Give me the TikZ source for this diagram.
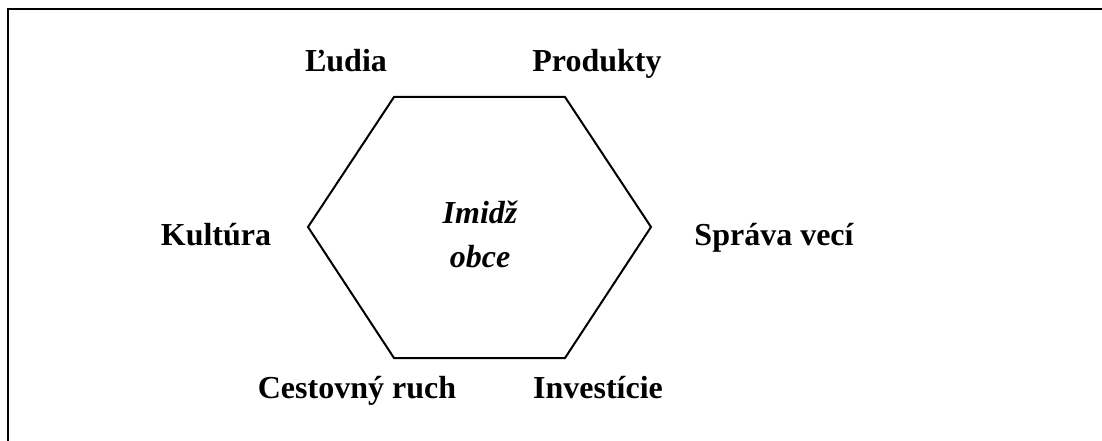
\documentclass[tikz,border=0pt]{standalone}
\usepackage{fontspec}
\setmainfont{Liberation Serif}
\begin{document}
\begin{tikzpicture}[
  x=1pt, y=-1pt,
  label/.style={font=\fontsize{32}{36}\selectfont\bfseries, anchor=base, inner sep=0pt},
  centre/.style={font=\fontsize{32}{36}\selectfont\bfseries\itshape, anchor=base, inner sep=0pt},
  edge/.style={draw, line width=2pt, line join=miter},
  frame/.style={draw, line width=2.5pt}
  ]
  \useasboundingbox (0,0) rectangle (1102,441);
  % frame
  \coordinate (fbl) at (8,441);
  \coordinate (ftl) at (8,9);
  \coordinate (ftr) at (1102,9);
  \draw[frame] (fbl) -- (ftl) -- (ftr);
  % hexagon
  \coordinate (hl) at (308,227);
  \coordinate (htl) at (394,97);
  \coordinate (htr) at (565,97);
  \coordinate (hr) at (651,227);
  \coordinate (hbr) at (565,358);
  \coordinate (hbl) at (394,358);
  \draw[edge] (hl) -- (htl) -- (htr) -- (hr) -- (hbr) -- (hbl) -- cycle;
  % labels
  \node[label] (ludia) at (346,72) {Ľudia};
  \node[label] (produkty) at (597,72) {Produkty};
  \node[label] (kultura) at (216,245) {Kultúra};
  \node[label] (sprava) at (774,245) {Správa vecí};
  \node[label] (cestovny) at (357,398) {Cestovný ruch};
  \node[label] (investicie) at (598,398) {Investície};
  \node[centre] (imidz) at (480,223) {Imidž};
  \node[centre] (obce) at (480,267) {obce};
\end{tikzpicture}
\end{document}
